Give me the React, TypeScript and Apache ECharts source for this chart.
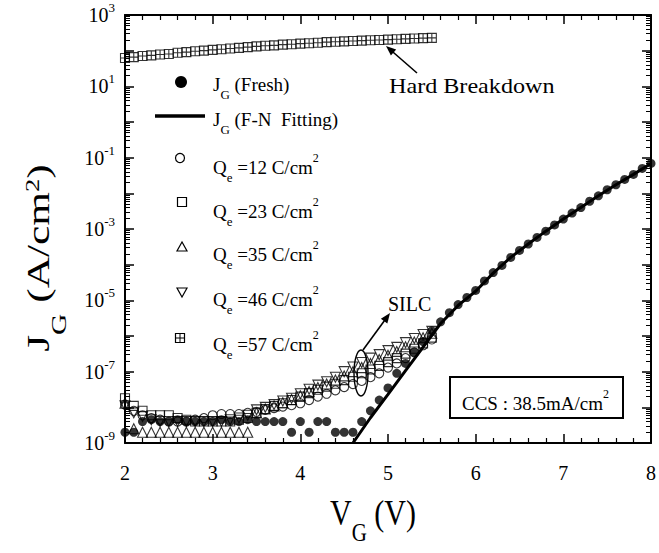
import { useEffect, useRef } from "react";
import * as echarts from "echarts";

// ---------- data ----------
const VG_FRESH = [2.0, 2.1, 2.2, 2.3, 2.4, 2.5, 2.6, 2.7, 2.8, 2.9, 3.0, 3.1, 3.2, 3.3, 3.4, 3.5, 3.6, 3.7, 3.8, 3.9, 4.0, 4.1, 4.2, 4.3, 4.4, 4.5, 4.6, 4.7, 4.8, 4.9, 5.0, 5.1, 5.2, 5.3, 5.4, 5.5, 5.6, 5.7, 5.8, 5.9, 6.0, 6.1, 6.2, 6.3, 6.4, 6.5, 6.6, 6.7, 6.8, 6.9, 7.0, 7.1, 7.2, 7.3, 7.4, 7.5, 7.6, 7.7, 7.8, 7.9, 8.0];
const J_FRESH = [
  2e-9, 2e-9, 4e-9, 4.5e-9, 4e-9, 4e-9, 4.5e-9, 4e-9, 4e-9, 4e-9,
  4e-9, 4.5e-9, 4e-9, 4e-9, 4.5e-9, 4e-9, 4e-9, 4e-9, 4e-9, 2e-9,
  4e-9, 2e-9, 4e-9, 4e-9, 2e-9, 2e-9, 2e-9, 4e-9, 8e-9, 1.6e-8,
  3.5e-8, 9e-8, 1.7e-7, 3.5e-7, 7e-7, 1.4e-6, 2.5e-6, 4.5e-6, 7.6e-6, 1.2e-5,
  1.9e-5, 3.5e-5, 6e-5, 9.5e-5, 1.6e-4, 2.5e-4, 3.8e-4, 5.8e-4, 8.7e-4, 1.3e-3,
  1.9e-3, 2.8e-3, 4e-3, 6e-3, 8.5e-3, 1.26e-2, 1.74e-2, 2.45e-2, 3.4e-2, 5e-2,
  6.9e-2,
];
const VG_FN = [4.6, 4.8, 5.0, 5.2, 5.4, 5.6, 5.8, 6.0, 6.2, 6.4, 6.6, 6.8, 7.0, 7.2, 7.4, 7.6, 7.8, 8.0];
const J_FN = [1e-9, 5.1e-9, 2.3e-8, 1.07e-7, 4.9e-7, 2.24e-6, 7.2e-6, 1.8e-5, 5.8e-5, 1.6e-4, 3.8e-4, 8.7e-4, 1.9e-3, 4e-3, 8.5e-3, 1.74e-2, 3.4e-2, 6.9e-2];

const VG_STRESS = [2.0, 2.1, 2.2, 2.3, 2.4, 2.5, 2.6, 2.7, 2.8, 2.9, 3.0, 3.1, 3.2, 3.3, 3.4, 3.5, 3.6, 3.7, 3.8, 3.9, 4.0, 4.1, 4.2, 4.3, 4.4, 4.5, 4.6, 4.7, 4.8, 4.9, 5.0, 5.1, 5.2, 5.3, 5.4, 5.5];
const J_QE12 = [
  1.2e-8, 8e-9, 6e-9, 5e-9, 4.5e-9, 4e-9, 4e-9, 4e-9, 4.5e-9, 5e-9,
  6e-9, 6.5e-9, 6.5e-9, 6.5e-9, 7e-9, 7.5e-9, 8.5e-9, 9.5e-9, 1.05e-8, 1.15e-8,
  1.3e-8, 1.6e-8, 2e-8, 2.4e-8, 3e-8, 3.7e-8, 4.5e-8, 5.5e-8, 7e-8, 9e-8,
  1.3e-7, 1.7e-7, 2.4e-7, 3.5e-7, 5.5e-7, 8e-7,
];
const J_QE23 = [
  1.8e-8, 1.1e-8, 8e-9, 6e-9, 6e-9, 6e-9, 5e-9, 4.5e-9, 4e-9, 4e-9,
  4e-9, 4e-9, 4e-9, 4.5e-9, 5e-9, 7e-9, 9e-9, 1.1e-8, 1.3e-8, 1.6e-8,
  2e-8, 2.5e-8, 3.1e-8, 3.8e-8, 4.6e-8, 5.8e-8, 7.2e-8, 9e-8, 1.15e-7, 1.45e-7,
  1.85e-7, 2.4e-7, 3.2e-7, 4.4e-7, 6.2e-7, 9e-7,
];
const J_QE35 = [
  1.3e-8, 2.5e-9, 2e-9, 2e-9, 2e-9, 2e-9, 2e-9, 2e-9, 2e-9, 2e-9,
  2e-9, 2e-9, 2e-9, 2e-9, 2e-9, 7e-9, 9e-9, 1.1e-8, 1.35e-8, 1.65e-8,
  2.1e-8, 2.8e-8, 3.6e-8, 4.5e-8, 5.8e-8, 7.6e-8, 1e-7, 1.3e-7, 1.7e-7, 2.2e-7,
  2.9e-7, 3.7e-7, 5e-7, 6.8e-7, 9e-7, 1.2e-6,
];
const J_QE46 = [
  1.1e-8, 7e-9, 5.5e-9, 4.5e-9, 4e-9, 4e-9, 4e-9, 4e-9, 4e-9, 4e-9,
  4e-9, 4e-9, 4.5e-9, 5e-9, 6e-9, 8.5e-9, 1e-8, 1.2e-8, 1.5e-8, 1.8e-8,
  2.4e-8, 3.2e-8, 4.2e-8, 5.2e-8, 7e-8, 1e-7, 1.35e-7, 1.8e-7, 2.4e-7, 3e-7,
  3.9e-7, 4.8e-7, 6.5e-7, 8.5e-7, 1.1e-6, 1.35e-6,
];
const J_QE57 = [
  62, 66, 71, 74, 78, 81, 87, 91, 96, 100,
  105, 110, 115, 120, 126, 132, 138, 141, 148, 151,
  158, 162, 166, 174, 178, 182, 186, 191, 195, 200,
  204, 209, 214, 219, 224, 229,
];

const X_MIN = 2;
const X_MAX = 8;
const Y_EXP_MIN = -9;
const Y_EXP_MAX = 3;
const Y_LABEL_EXPONENTS = [-9, -7, -5, -3, -1, 1, 3];

// log-decade minor tick positions (axis decoration, in exponent units)
const Y_MINOR_TICKS: number[] = [];
for (let n = Y_EXP_MIN; n < Y_EXP_MAX; n++) {
  for (let k = 2; k <= 9; k++) Y_MINOR_TICKS.push(n + Math.log10(k));
}

const FONT = "'Liberation Serif', 'Times New Roman', serif";
const BLACK = "#000";

const toPoints = (xs: number[], js: number[]) => xs.map((x, i) => [x, Math.log10(js[i])]);

const hollow = { color: "rgba(0,0,0,0)", borderColor: BLACK, borderWidth: 1.1 };

function arrow(x1: number, y1: number, x2: number, y2: number, head = 10, half = 4) {
  const dx = x2 - x1;
  const dy = y2 - y1;
  const L = Math.hypot(dx, dy);
  const ux = dx / L;
  const uy = dy / L;
  const bx = x2 - ux * head;
  const by = y2 - uy * head;
  return [
    { type: "line", z: 100, shape: { x1, y1, x2: bx + ux * 2, y2: by + uy * 2 }, style: { stroke: BLACK, lineWidth: 1.6 } },
    {
      type: "polygon",
      z: 100,
      shape: { points: [[x2, y2], [bx - uy * half, by + ux * half], [bx + uy * half, by - ux * half]] },
      style: { fill: BLACK },
    },
  ];
}

const legendRich = {
  m: { fontSize: 19, fontFamily: FONT, fill: BLACK, padding: [6, 0, 0, 0], verticalAlign: "top" },
  s: { fontSize: 13, fontFamily: FONT, fill: BLACK, padding: [19, 0, 0, 0], verticalAlign: "top" },
  p: { fontSize: 12, fontFamily: FONT, fill: BLACK, verticalAlign: "top" },
};

function legendText(text: string, x: number, y: number, scaleX = 1) {
  return {
    type: "text",
    z: 100,
    x,
    y,
    scaleX,
    style: { text, x: 0, y: 0, rich: legendRich, fill: BLACK, fontFamily: FONT, fontSize: 19, align: "left", verticalAlign: "middle", textAlign: "left", textVerticalAlign: "middle" },
  };
}

const LEGEND_LABELS = [
  "{m|J}{s|G}{m| (Fresh)}",
  "{m|J}{s|G}{m| (F-N  Fitting)}",
  "{m|Q}{s|e}{m| =12 C/cm}{p|2}",
  "{m|Q}{s|e}{m| =23 C/cm}{p|2}",
  "{m|Q}{s|e}{m| =35 C/cm}{p|2}",
  "{m|Q}{s|e}{m| =46 C/cm}{p|2}",
  "{m|Q}{s|e}{m| =57 C/cm}{p|2}",
];

function buildGraphic() {
  const g: any[] = [];
  // legend markers
  g.push({ type: "circle", z: 100, shape: { cx: 181, cy: 82, r: 6 }, style: { fill: BLACK } });
  g.push({ type: "line", z: 100, shape: { x1: 155, y1: 116, x2: 205, y2: 116 }, style: { stroke: BLACK, lineWidth: 3.5 } });
  g.push({ type: "circle", z: 100, shape: { cx: 180, cy: 158, r: 4.5 }, style: { fill: "none", stroke: BLACK, lineWidth: 1.2 } });
  g.push({ type: "rect", z: 100, shape: { x: 177.5, y: 197.5, width: 9, height: 9 }, style: { fill: "none", stroke: BLACK, lineWidth: 1.2 } });
  g.push({ type: "polygon", z: 100, shape: { points: [[182, 242], [177, 251], [187, 251]] }, style: { fill: "none", stroke: BLACK, lineWidth: 1.2 } });
  g.push({ type: "polygon", z: 100, shape: { points: [[177, 288], [187, 288], [182, 297]] }, style: { fill: "none", stroke: BLACK, lineWidth: 1.2 } });
  g.push({ type: "rect", z: 100, shape: { x: 175.5, y: 333.5, width: 9, height: 9 }, style: { fill: "none", stroke: BLACK, lineWidth: 1.2 } });
  g.push({ type: "line", z: 100, shape: { x1: 180, y1: 333.5, x2: 180, y2: 342.5 }, style: { stroke: BLACK, lineWidth: 1 } });
  g.push({ type: "line", z: 100, shape: { x1: 175.5, y1: 338, x2: 184.5, y2: 338 }, style: { stroke: BLACK, lineWidth: 1 } });
  // legend texts
  const ys = [85, 120, 168, 212, 255, 300, 345];
  LEGEND_LABELS.forEach((t, i) => g.push(legendText(t, 213, ys[i])));

  // Hard breakdown annotation
  g.push({
    type: "text", z: 100, x: 389, y: 86, scaleX: 1.15,
    style: { text: "Hard Breakdown", x: 0, y: 0, fill: BLACK, fontFamily: FONT, fontSize: 21, align: "left", verticalAlign: "middle", textAlign: "left", textVerticalAlign: "middle" },
  });
  g.push(...arrow(417, 73, 386, 46));

  // SILC annotation
  g.push({
    type: "text", z: 100, x: 388, y: 304,
    style: { text: "SILC", x: 0, y: 0, fill: BLACK, fontFamily: FONT, fontSize: 20, align: "left", verticalAlign: "middle", textAlign: "left", textVerticalAlign: "middle" },
  });
  g.push({ type: "ellipse", z: 100, shape: { cx: 361, cy: 373, rx: 7, ry: 23 }, style: { fill: "none", stroke: BLACK, lineWidth: 1.4 } });
  g.push(...arrow(363, 350, 390, 313));

  // CCS box
  g.push({ type: "rect", z: 100, shape: { x: 450, y: 377, width: 173, height: 41 }, style: { fill: "#fff", stroke: BLACK, lineWidth: 2 } });
  g.push(legendText("{m|CCS : 38.5mA/cm}{p|2}", 462, 400));

  // axis titles
  g.push({
    type: "text", z: 100, x: 330, y: 513, scaleY: 1.2,
    style: {
      text: "{m|V}{s|G}{m| (V)}", x: 0, y: -15, fill: BLACK, fontFamily: FONT, fontSize: 30,
      align: "left", verticalAlign: "top", textAlign: "left", textVerticalAlign: "top",
      rich: {
        m: { fontSize: 30, fontFamily: FONT, fill: BLACK, verticalAlign: "top" },
        s: { fontSize: 21, fontFamily: FONT, fill: BLACK, padding: [21, 0, 0, 0], verticalAlign: "top" },
      },
    },
  });
  g.push({
    type: "text", z: 100, x: 39, y: 258, rotation: Math.PI / 2, scaleX: 1.4,
    style: {
      text: "{m|J}{s|G}{m| (A/cm}{p|2}{m|)}", x: 0, y: -16, fill: BLACK, fontFamily: FONT, fontSize: 31,
      align: "center", verticalAlign: "top", textAlign: "center", textVerticalAlign: "top",
      rich: {
        m: { fontSize: 31, fontFamily: FONT, fill: BLACK, verticalAlign: "top" },
        s: { fontSize: 21, fontFamily: FONT, fill: BLACK, padding: [26, 0, 0, 0], verticalAlign: "top" },
        p: { fontSize: 19, fontFamily: FONT, fill: BLACK, verticalAlign: "top" },
      },
    },
  });
  return g;
}

const axisLine = { show: true, onZero: false, lineStyle: { color: BLACK, width: 2 } };
const majorTick = { show: true, inside: true, length: 9, lineStyle: { color: BLACK, width: 1.5 } };
const xMinor = { show: true, splitNumber: 5, length: 5, lineStyle: { color: BLACK, width: 1.2 } };

function buildOption() {
  const xBase = {
    type: "value",
    min: X_MIN,
    max: X_MAX,
    interval: 1,
    axisLine,
    axisTick: majorTick,
    minorTick: xMinor,
    splitLine: { show: false },
    minorSplitLine: { show: false },
  };
  const yBase = {
    type: "value",
    min: Y_EXP_MIN,
    max: Y_EXP_MAX,
    interval: 1,
    axisLine,
    axisTick: majorTick,
    splitLine: { show: false },
  };
  const yMinor = {
    type: "value",
    min: Y_EXP_MIN,
    max: Y_EXP_MAX,
    axisLine: { show: false },
    axisTick: { show: true, inside: true, length: 5, customValues: Y_MINOR_TICKS, lineStyle: { color: BLACK, width: 1 } },
    axisLabel: { show: false },
    splitLine: { show: false },
  };
  return {
    animation: false,
    backgroundColor: "#fff",
    grid: { left: 125, right: 4, top: 15, bottom: 110, containLabel: false },
    xAxis: [
      {
        ...xBase,
        position: "bottom",
        axisLabel: { color: BLACK, fontFamily: FONT, fontSize: 20, margin: 20 },
      },
      { ...xBase, position: "top", axisLabel: { show: false } },
    ],
    yAxis: [
      {
        ...yBase,
        position: "left",
        axisLabel: {
          margin: 10,
          formatter: (v: number) => (Y_LABEL_EXPONENTS.includes(Math.round(v)) ? `{b|10}{s|${Math.round(v)}}` : ""),
          rich: {
            b: { fontSize: 20, fontFamily: FONT, color: BLACK, padding: [6, 0, 6, 0], verticalAlign: "top" },
            s: { fontSize: 13, fontFamily: FONT, color: BLACK, padding: [2, 0, 0, 0], verticalAlign: "top" },
          },
        },
      },
      { ...yBase, position: "right", axisLabel: { show: false } },
      { ...yMinor, position: "left" },
      { ...yMinor, position: "right" },
    ],
    series: [
      {
        name: "JG (F-N Fitting)",
        type: "line",
        data: toPoints(VG_FN, J_FN),
        symbol: "none",
        smooth: false,
        lineStyle: { color: BLACK, width: 3 },
        silent: true,
      },
      {
        name: "JG (Fresh)",
        type: "scatter",
        data: toPoints(VG_FRESH, J_FRESH),
        symbol: "circle",
        symbolSize: 9,
        itemStyle: { color: BLACK },
      },
      {
        name: "Qe=12 C/cm2",
        type: "scatter",
        data: toPoints(VG_STRESS, J_QE12),
        symbol: "circle",
        symbolSize: 9,
        itemStyle: hollow,
      },
      {
        name: "Qe=23 C/cm2",
        type: "scatter",
        data: toPoints(VG_STRESS, J_QE23),
        symbol: "rect",
        symbolSize: 9,
        itemStyle: hollow,
      },
      {
        name: "Qe=35 C/cm2",
        type: "scatter",
        data: toPoints(VG_STRESS, J_QE35),
        symbol: "triangle",
        symbolSize: 10,
        itemStyle: hollow,
      },
      {
        name: "Qe=46 C/cm2",
        type: "scatter",
        data: toPoints(VG_STRESS, J_QE46),
        symbol: "triangle",
        symbolRotate: 180,
        symbolSize: 10,
        itemStyle: hollow,
      },
      {
        name: "Qe=57 C/cm2",
        type: "scatter",
        data: toPoints(VG_STRESS, J_QE57),
        symbol: "path://M0,0L10,0L10,10L0,10ZM5,0L5,10M0,5L10,5",
        symbolSize: 9,
        itemStyle: hollow,
      },
    ],
    graphic: buildGraphic(),
  };
}

export default function App() {
  const ref = useRef<HTMLDivElement>(null);
  useEffect(() => {
    document.body.style.margin = "0";
    const chart = echarts.init(ref.current as HTMLDivElement, null, { renderer: "svg" });
    chart.setOption(buildOption() as any);
    return () => chart.dispose();
  }, []);
  return <div ref={ref} style={{ width: 659, height: 553 }} />;
}
